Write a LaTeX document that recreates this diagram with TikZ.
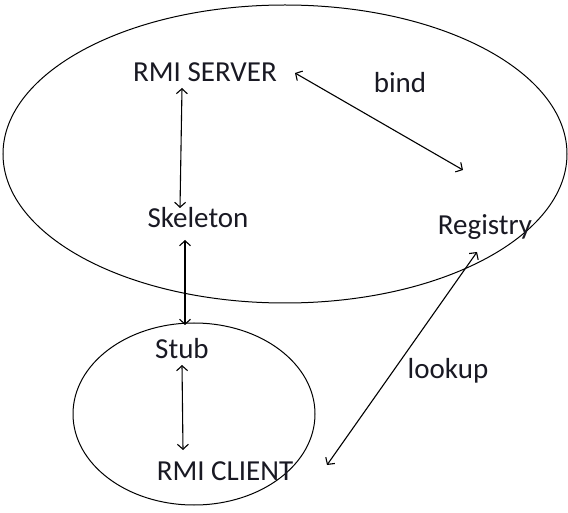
\documentclass[tikz,border=0pt]{standalone}
\usepackage{fontspec}
\setmainfont{Carlito}
\usepackage{xcolor}
\usepackage{tikz}
\usetikzlibrary{arrows.meta,calc}

\definecolor{inkdark}{RGB}{25,25,35}

\tikzset{
    lbl/.style={inner sep=0pt, anchor=base, text=inkdark, font=\fontsize{29}{31}\selectfont},
    link/.style={line width=1.1pt, {Straight Barb[length=5pt,width=11pt]}-{Straight Barb[length=5pt,width=11pt]}},
    blob/.style={line width=1pt}
}

\begin{document}
\begin{tikzpicture}[x=1pt,y=-1pt]
                \useasboundingbox (0,0) rectangle (568,513);

                % server side and client side
                \draw[blob] (285,154) ellipse [x radius=282pt, y radius=149pt];
                \draw[blob] (194,414) ellipse [x radius=121pt, y radius=91pt];

                \node[lbl] (server) at (205,82) {RMI SERVER};
                \node[lbl] (bind) at (400,93) {bind};
                \node[lbl] (skel) at (198,228) {Skeleton};
                \node[lbl] (reg) at (485,235) {Registry};
                \node[lbl] (stub) at (182,358) {Stub};
                \node[lbl] (lookup) at (448,378) {lookup};
                \node[lbl] (client) at (225,480) {RMI CLIENT};

                % calls going both ways
                \draw[link] ([shift={(-23,6)}]server.base) -- ([shift={(-18,-20)}]skel.base);
                \draw[link] ([shift={(-13,12)}]skel.base) -- ([shift={(3,-33)}]stub.base);
                \draw[link] ([shift={(0,7)}]stub.base) -- ([shift={(-42,-30)}]client.base);
                \draw[link] ([shift={(90,-9)}]server.base) -- ([shift={(-22,-65)}]reg.base);
                \draw[link] ([shift={(-8,17)}]reg.base) -- ([shift={(102,-15)}]client.base);
            \end{tikzpicture}
\end{document}
